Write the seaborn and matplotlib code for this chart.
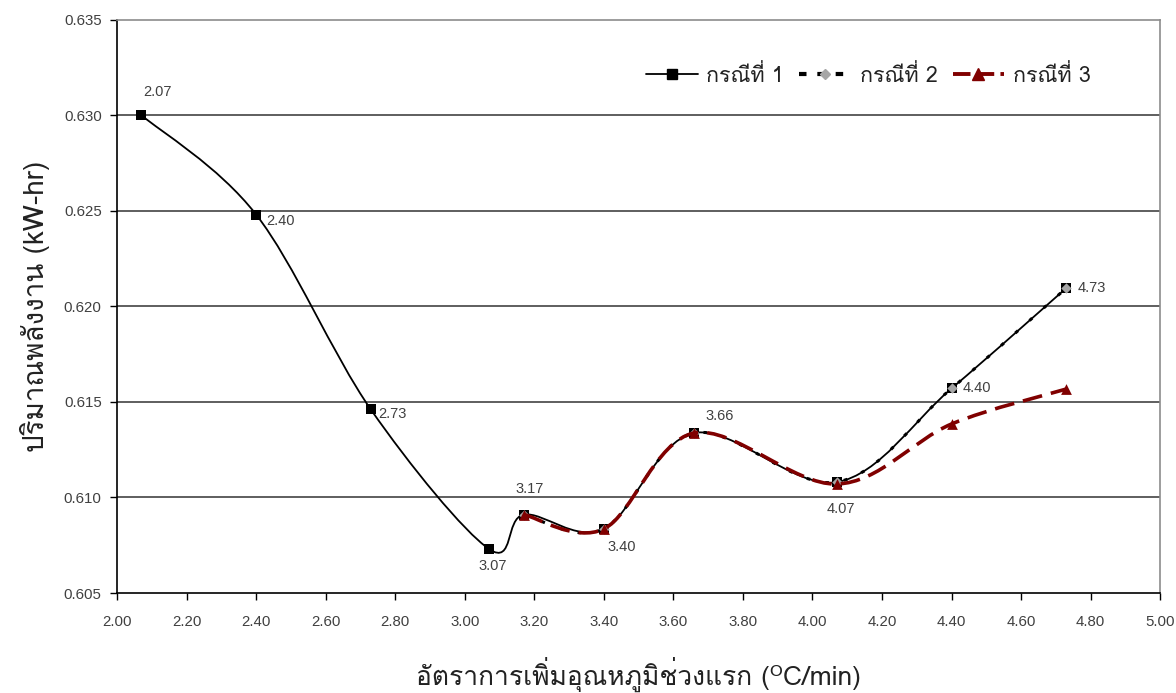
import numpy as np
import pandas as pd
import seaborn as sns
import matplotlib
matplotlib.use("Agg")
import matplotlib.pyplot as plt
from matplotlib import font_manager
from matplotlib.ft2font import FT2Font
from matplotlib.path import Path
from matplotlib.patches import PathPatch
from matplotlib.lines import Line2D

# ---- data -------------------------------------------------------------
rate_case1 = [2.07, 2.40, 2.73, 3.07, 3.17, 3.40, 3.66, 4.07, 4.40, 4.73]
energy_case1 = [0.6300, 0.6248, 0.6146, 0.6073, 0.6091, 0.60835, 0.61337, 0.6108, 0.6157, 0.62095]

rate_case2 = [3.17, 3.40, 3.66, 4.07, 4.40, 4.73]
energy_case2 = [0.6091, 0.60835, 0.61337, 0.6108, 0.6157, 0.62095]

rate_case3 = [3.17, 3.40, 3.66, 4.07, 4.40, 4.73]
energy_case3 = [0.6091, 0.60835, 0.61337, 0.6107, 0.61384, 0.61567]

series_names = ["กรณีที่ 1", "กรณีที่ 2", "กรณีที่ 3"]
x_ticks = [2.00, 2.20, 2.40, 2.60, 2.80, 3.00, 3.20, 3.40, 3.60, 3.80,
           4.00, 4.20, 4.40, 4.60, 4.80, 5.00]
y_ticks = [0.605, 0.610, 0.615, 0.620, 0.625, 0.630, 0.635]

# label offsets (pixels) and alignment for the point labels of case 1
label_style = {
    2.07: ((2, 23), "left"),
    2.40: ((10, -6), "left"),
    2.73: ((7, -5), "left"),
    3.07: ((4, -17), "center"),
    3.17: ((6, 26), "center"),
    3.40: ((4, -18), "left"),
    3.66: ((11, 17), "left"),
    4.07: ((4, -27), "center"),
    4.40: ((11, 0), "left"),
    4.73: ((11, 0), "left"),
}

# ---- fonts ------------------------------------------------------------
sns.set_theme(style="white")


def thai_families():
    found = []
    for entry in font_manager.fontManager.ttflist:
        if entry.name in found:
            continue
        try:
            ft = FT2Font(entry.fname)
            if ft.get_char_index(0x0E01) and ft.get_char_index(0x0E13):
                found.append(entry.name)
        except Exception:
            pass
    return found


families = thai_families()
plt.rcParams["font.family"] = families[:1] + ["DejaVu Sans"]
NUM_FONT = ["Liberation Sans", "DejaVu Sans"]

# ---- figure -----------------------------------------------------------
fig = plt.figure(figsize=(11.76, 6.93), dpi=100)
ax = fig.add_axes([0.0995, 0.1443, 0.8870, 0.8275])


def smooth_path(xs, ys):
    """Cubic Bezier path through the points (Catmull-Rom tangents)."""
    pts = np.column_stack([xs, ys]).astype(float)
    n = len(pts)
    verts = [pts[0]]
    codes = [Path.MOVETO]
    for i in range(n - 1):
        p0 = pts[i - 1] if i > 0 else pts[i]
        p1 = pts[i]
        p2 = pts[i + 1]
        p3 = pts[i + 2] if i + 2 < n else pts[i + 1]
        c1 = p1 + (p2 - p0) / 6.0
        c2 = p2 - (p3 - p1) / 6.0
        verts += [c1, c2, p2]
        codes += [Path.CURVE4] * 3
    return Path(verts, codes)


dark_red = "#800000"

# case 1: solid black curve, black squares
ax.add_patch(PathPatch(smooth_path(rate_case1, energy_case1), fill=False,
                       edgecolor="black", lw=1.3, zorder=3))
df1 = pd.DataFrame({"rate": rate_case1, "energy": energy_case1})
sns.scatterplot(data=df1, x="rate", y="energy", ax=ax, marker="s", s=45,
                color="black", edgecolor="black", linewidth=0, zorder=4)

# case 2: dotted black curve, grey diamonds
ax.add_patch(PathPatch(smooth_path(rate_case2, energy_case2), fill=False,
                       edgecolor="black", lw=2.2, linestyle=(0, (1.2, 5.0)),
                       zorder=5))
df2 = pd.DataFrame({"rate": rate_case2, "energy": energy_case2})
sns.scatterplot(data=df2, x="rate", y="energy", ax=ax, marker="D", s=28,
                color="#a6a6a6", edgecolor="#a6a6a6", linewidth=0, zorder=6)

# case 3: dashed dark-red curve, triangles
ax.add_patch(PathPatch(smooth_path(rate_case3, energy_case3), fill=False,
                       edgecolor=dark_red, lw=2.6, linestyle=(0, (5.5, 2.5)),
                       zorder=7))
df3 = pd.DataFrame({"rate": rate_case3, "energy": energy_case3})
sns.scatterplot(data=df3, x="rate", y="energy", ax=ax, marker="^", s=60,
                color=dark_red, edgecolor=dark_red, linewidth=0, zorder=8)

# point labels
for xv, yv in zip(rate_case1, energy_case1):
    offset, ha = label_style[xv]
    ax.annotate(f"{xv:.2f}", (xv, yv), xytext=offset, textcoords="offset pixels",
                ha=ha, va="center", fontsize=10.5, color="#404040",
                family=NUM_FONT, zorder=9)

# ---- axes -------------------------------------------------------------
ax.set_xlim(2.0, 5.0)
ax.set_ylim(0.605, 0.635)
ax.set_xticks(x_ticks)
ax.set_xticklabels([f"{v:.2f}" for v in x_ticks], family=NUM_FONT, fontsize=10.8)
ax.set_yticks(y_ticks)
ax.set_yticklabels([f"{v:.3f}" for v in y_ticks], family=NUM_FONT, fontsize=10.8)
ax.tick_params(axis="both", which="major", direction="out", length=5, width=1,
               color="black", labelcolor="#404040")
ax.tick_params(axis="x", pad=11)
ax.tick_params(axis="y", pad=6)
ax.xaxis.set_ticks_position("bottom")
ax.yaxis.set_ticks_position("left")

ax.grid(False)
for yv in y_ticks[1:-1]:
    ax.axhline(yv, color="#333333", lw=1.1, zorder=1)

ax.spines["left"].set_color("black")
ax.spines["bottom"].set_color("black")
ax.spines["top"].set_color("#8c8c8c")
ax.spines["right"].set_color("#8c8c8c")
for s in ax.spines.values():
    s.set_linewidth(1.2)

ax.set_xlabel("อัตราการเพิ่มอุณหภูมิช่วงแรก (ᴼC/min)", fontsize=19,
              color="#222222", labelpad=20)
ax.set_ylabel("ปริมาณพลังงาน (kW-hr)", fontsize=20, color="#222222",
              labelpad=10)

# ---- legend -----------------------------------------------------------
handles = [
    Line2D([], [], color="black", lw=1.3, marker="s", markersize=7),
    Line2D([], [], color="black", lw=3.0, linestyle=(0, (1.8, 2.6)),
           marker="D", markersize=5, markerfacecolor="#a6a6a6",
           markeredgecolor="#a6a6a6"),
    Line2D([], [], color=dark_red, lw=2.8, linestyle=(0, (4.5, 1.6)),
           marker="^", markersize=8),
]
ax.legend(handles, series_names, ncol=3, frameon=False, fontsize=15.5,
          loc="upper right", bbox_to_anchor=(0.952, 0.955), handlelength=2.4,
          handletextpad=0.4, columnspacing=0.7, labelcolor="#222222")

fig.savefig("out.png", dpi=100)
